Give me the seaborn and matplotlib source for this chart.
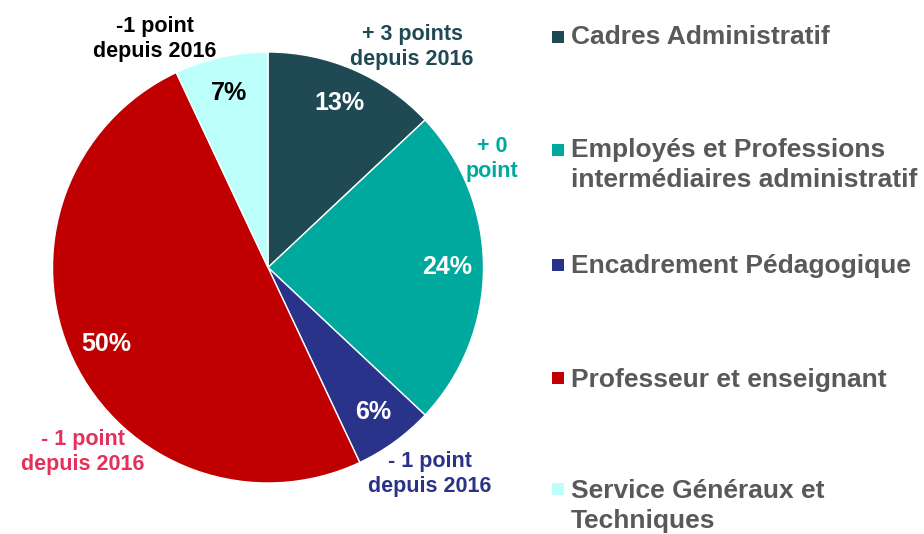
import matplotlib
matplotlib.use("Agg")
import matplotlib.pyplot as plt
from matplotlib.patches import Rectangle
import seaborn as sns

categories = ["Cadres Administratif",
              "Employés et Professions\nintermédiaires administratif",
              "Encadrement Pédagogique",
              "Professeur et enseignant",
              "Service Généraux et\nTechniques"]
values = [13, 24, 6, 50, 7]
changes = ["+ 3 points\ndepuis 2016", "+ 0\npoint", "- 1 point\ndepuis 2016",
           "- 1 point\ndepuis 2016", "-1 point\ndepuis 2016"]
slice_colors = ["#1F4A53", "#00A99D", "#2A338A", "#C00000", "#BDFFFB"]
change_colors = ["#1F4A53", "#00A99D", "#2A338A", "#E4305A", "#000000"]
pct_colors = ["white", "white", "white", "white", "black"]

sns.set_theme(style="white")
plt.rcParams["font.family"] = ["Liberation Sans", "DejaVu Sans"]
palette = sns.color_palette(slice_colors)

W, H = 924, 534
fig = plt.figure(figsize=(W / 100, H / 100), dpi=100)
ax = fig.add_axes([0, 0, 1, 1])

def Y(y):
    return H - y

wedges, texts, autotexts = ax.pie(
    values, colors=palette, startangle=90, counterclock=False,
    center=(268, Y(267.5)), radius=215.5, autopct="%.0f%%", pctdistance=0.83,
    wedgeprops=dict(edgecolor="white", linewidth=1),
    textprops=dict(fontsize=18, fontweight="bold"), frame=True)
ax.set_xlim(0, W)
ax.set_ylim(0, H)
ax.set_aspect("equal")
ax.axis("off")
for t, c in zip(autotexts, pct_colors):
    t.set_color(c)

# change annotations
ann_pos = [(412, 47), (492, 159), (430, 474), (83, 452), (155, 39)]
for txt, col, (x, y) in zip(changes, change_colors, ann_pos):
    ax.text(x, Y(y), txt, ha="center", va="center", fontsize=15.5,
            fontweight="bold", color=col, linespacing=1.2)

# legend: square bottom and baseline of the last text line
sq_bottoms = [43, 156, 271, 384, 495]
last_baselines = [44, 187, 273, 387, 528]
for cat, col, sb, yb in zip(categories, slice_colors, sq_bottoms, last_baselines):
    ax.add_patch(Rectangle((552, Y(sb)), 12, 12, facecolor=col, edgecolor="none"))
    ax.text(571, Y(yb), cat, ha="left", va="baseline", fontsize=19,
            fontweight="bold", color="#595959", linespacing=1.34)

fig.savefig("out.png", dpi=100)
